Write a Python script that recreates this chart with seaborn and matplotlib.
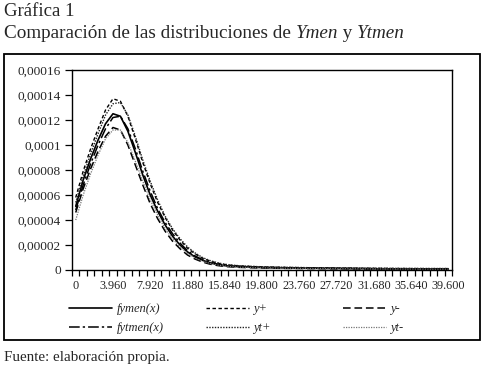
import numpy as np
import pandas as pd
import matplotlib.pyplot as plt
import seaborn as sns
from matplotlib.patches import Rectangle
from matplotlib.lines import Line2D

# x categories: 0 .. 39600 every 792
x_vals = np.arange(0, 39601, 792)

# densities (units of 1e-5)
fymen = [5.1, 7.2, 8.9, 10.4, 11.7, 12.5, 12.3, 11.1, 9.4, 7.6, 6.0, 4.7, 3.6, 2.7, 2.0, 1.45, 1.05, 0.78, 0.58, 0.44,
         0.35, 0.30, 0.27, 0.24, 0.22, 0.20, 0.19, 0.18, 0.17, 0.16, 0.15, 0.145, 0.14, 0.135, 0.13, 0.125, 0.12, 0.115,
         0.11, 0.105, 0.10, 0.10, 0.095, 0.09, 0.09, 0.085, 0.085, 0.08, 0.08, 0.08, 0.08]
y_plus = [5.8, 7.9, 9.7, 11.3, 12.8, 13.7, 13.5, 12.3, 10.5, 8.6, 6.9, 5.4, 4.2, 3.2, 2.4, 1.75, 1.3, 0.95, 0.72, 0.55,
          0.44, 0.37, 0.33, 0.30, 0.27, 0.25, 0.23, 0.22, 0.21, 0.20, 0.19, 0.18, 0.17, 0.165, 0.16, 0.155, 0.15, 0.145,
          0.14, 0.135, 0.13, 0.13, 0.125, 0.12, 0.12, 0.115, 0.115, 0.11, 0.11, 0.11, 0.11]
y_minus = [4.6, 6.5, 8.1, 9.5, 10.7, 11.4, 11.2, 10.0, 8.4, 6.8, 5.3, 4.1, 3.1, 2.3, 1.7, 1.2, 0.88, 0.64, 0.47, 0.36,
           0.28, 0.24, 0.21, 0.19, 0.17, 0.16, 0.15, 0.14, 0.13, 0.125, 0.12, 0.115, 0.11, 0.105, 0.10, 0.095, 0.09,
           0.09, 0.085, 0.08, 0.08, 0.075, 0.075, 0.07, 0.07, 0.065, 0.065, 0.06, 0.06, 0.06, 0.06]
fytmen = [4.8, 6.8, 8.5, 10.0, 11.3, 12.2, 12.3, 11.3, 9.7, 7.9, 6.3, 4.9, 3.8, 2.9, 2.15, 1.55, 1.13, 0.83, 0.62, 0.47,
          0.37, 0.31, 0.28, 0.25, 0.23, 0.21, 0.20, 0.19, 0.18, 0.17, 0.16, 0.15, 0.145, 0.14, 0.135, 0.13, 0.125,
          0.12, 0.115, 0.11, 0.105, 0.10, 0.10, 0.095, 0.09, 0.09, 0.085, 0.085, 0.08, 0.08, 0.08]
yt_plus = [5.4, 7.5, 9.3, 10.9, 12.4, 13.3, 13.4, 12.4, 10.7, 8.8, 7.1, 5.6, 4.3, 3.3, 2.5, 1.85, 1.37, 1.0, 0.76, 0.58,
           0.46, 0.39, 0.34, 0.31, 0.28, 0.26, 0.24, 0.23, 0.22, 0.21, 0.20, 0.19, 0.18, 0.175, 0.17, 0.165, 0.16,
           0.155, 0.15, 0.145, 0.14, 0.14, 0.135, 0.13, 0.13, 0.125, 0.125, 0.12, 0.12, 0.12, 0.12]
yt_minus = [4.0, 6.0, 7.7, 9.2, 10.5, 11.2, 11.2, 10.2, 8.7, 7.1, 5.6, 4.4, 3.3, 2.5, 1.85, 1.33, 0.97, 0.71, 0.53, 0.40,
            0.31, 0.26, 0.22, 0.20, 0.18, 0.17, 0.16, 0.15, 0.14, 0.13, 0.125, 0.12, 0.115, 0.11, 0.105, 0.10, 0.095,
            0.09, 0.09, 0.085, 0.08, 0.08, 0.075, 0.075, 0.07, 0.07, 0.065, 0.065, 0.06, 0.06, 0.06]

y_ticks = [0, 0.00002, 0.00004, 0.00006, 0.00008, 0.0001, 0.00012, 0.00014, 0.00016]
y_labels = ["0", "0,00002", "0,00004", "0,00006", "0,00008", "0,0001", "0,00012", "0,00014", "0,00016"]
x_labels = ["0", "3.960", "7.920", "11.880", "15.840", "19.800", "23.760", "27.720", "31.680", "35.640", "39.600"]

series = [
    ("fymen(x)", fymen, "black", "-", 1.2),
    ("fytmen(x)", fytmen, "black", (0, (7, 2, 1.5, 2)), 1.1),
    ("y+", y_plus, "black", (0, (2.5, 1.8)), 1.0),
    ("yt+", yt_plus, "#222222", (0, (1, 1)), 1.0),
    ("y-", y_minus, "black", (0, (5, 2.5)), 1.1),
    ("yt-", yt_minus, "#777777", (0, (1, 1)), 0.9),
]

sns.set_style("ticks")
plt.rcParams['font.family'] = ['Liberation Serif', 'DejaVu Serif']

W, H = 488, 377
fig = plt.figure(figsize=(W / 100, H / 100), dpi=100)
ax = fig.add_axes([72 / W, 1 - 270 / H, 380 / W, 200 / H])

for name, vals, col, ls, lw in series:
    df = pd.DataFrame({"x": x_vals, "y": np.array(vals) * 1e-5})
    sns.lineplot(data=df, x="x", y="y", ax=ax, color=col, linestyle=ls, lw=lw, legend=False)

ax.set_xlim(-396, 39600 + 396)
ax.set_ylim(0, 0.00016)
ax.set_xlabel("")
ax.set_ylabel("")
for s in ax.spines.values():
    s.set_color("black")
    s.set_linewidth(1.0)

# tick marks at category boundaries, labels every 5 categories
ax.set_xticks(np.arange(-396, 39600 + 397, 792))
ax.set_xticklabels([])
ax.set_xticks(np.arange(0, 39601, 3960), minor=True)
ax.set_xticklabels(x_labels, minor=True, fontsize=8.8)
ax.tick_params(axis="x", which="major", length=4, width=0.9, direction="out", color="black")
ax.tick_params(axis="x", which="minor", length=0, pad=7)
ax.set_yticks(y_ticks)
ax.set_yticklabels(y_labels, fontsize=9.6)
ax.tick_params(axis="y", length=5, width=0.9, direction="out", color="black", pad=3)

# legend as three columns of two rows
handles = {name: Line2D([], [], color=col, linestyle=ls, lw=lw) for name, vals, col, ls, lw in series}
cols = [("fymen(x)", "fytmen(x)"), ("y+", "yt+"), ("y-", "yt-")]
xpos = [64, 201, 338]
for (a, b), xp in zip(cols, xpos):
    leg = fig.legend([handles[a], handles[b]], [a, b], loc="upper left",
                     bbox_to_anchor=(xp / W, 1 - 298 / H), frameon=False,
                     prop={"family": "Liberation Serif", "style": "italic", "size": 9},
                     handlelength=3.4, handletextpad=0.4, labelspacing=0.55, borderaxespad=0)

# outer frame
fig.add_artist(Rectangle((4 / W, 1 - 340 / H), 476 / W, 286 / H, transform=fig.transFigure,
                         fill=False, edgecolor="black", lw=1.3))

# titles
fig.text(4 / W, 1 - 12 / H, "Gráfica 1", fontsize=13.5, va="center", ha="left")
fig.canvas.draw()
r = fig.canvas.get_renderer()
xcur = 4
for txt, st in [("Comparación de las distribuciones de ", "normal"), ("Ymen", "italic"),
                (" y ", "normal"), ("Ytmen", "italic")]:
    t = fig.text(xcur / W, 1 - 33 / H, txt, fontsize=13.8, style=st, va="center", ha="left")
    xcur += t.get_window_extent(r).width
fig.text(4 / W, 1 - 358 / H, "Fuente: elaboración propia.", fontsize=10.8, va="center", ha="left")

fig.savefig("out.png", dpi=100)
